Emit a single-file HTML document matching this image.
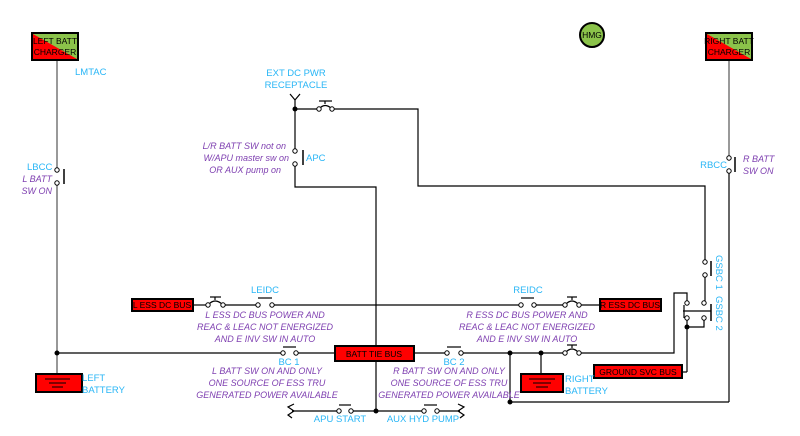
<!DOCTYPE html>
<html><head><meta charset="utf-8"><style>
html,body{margin:0;padding:0;background:#fff;width:800px;height:436px;overflow:hidden}
svg text{font-family:"Liberation Sans",sans-serif}
.b{fill:#29b6f6;font-size:9.5px}
.p{fill:#7e3fb0;font-size:9px;font-style:italic}
.k{fill:#000;font-size:8.5px}
</style></head><body>
<svg width="800" height="436" viewBox="0 0 800 436" xmlns="http://www.w3.org/2000/svg">
<g fill="none" stroke="#000" stroke-width="1.2">
<line x1="57" y1="60" x2="57" y2="170" stroke="#777" stroke-width="1.5"/>
<line x1="57" y1="183" x2="57" y2="374" stroke="#777" stroke-width="1.5"/>
<line x1="64" y1="169" x2="64" y2="184" stroke-width="1.5"/>
<line x1="729" y1="60" x2="729" y2="158" stroke="#777" stroke-width="1.5"/>
<line x1="729" y1="171" x2="729" y2="402" stroke="#000"/>
<line x1="735" y1="157" x2="735" y2="172" stroke-width="1.5"/>
<polyline points="290,94 295,100 300,94"/>
<line x1="295" y1="100" x2="295" y2="151"/>
<line x1="295" y1="109" x2="319" y2="109"/>
<polyline points="332,109 418,109 418,186 705,186 705,262"/>
<line x1="319" y1="101" x2="332" y2="101"/><line x1="325" y1="101" x2="325" y2="104"/>
<path d="M319,109 Q325,102 332,109"/>
<line x1="303" y1="150" x2="303" y2="165" stroke-width="1.5"/>
<polyline points="295,164 295,187 376,187 376,411"/>
<line x1="705" y1="275" x2="705" y2="303"/>
<line x1="711" y1="261" x2="711" y2="276" stroke-width="1.5"/>
<polyline points="704,318 704,327 687,327"/>
<line x1="687" y1="318" x2="687" y2="372"/>
<line x1="687" y1="372" x2="682" y2="372"/>
<polyline points="687,303 687,293 674,293 674,353 579,353"/>
<line x1="683" y1="311" x2="711" y2="311"/>
<line x1="711" y1="304" x2="711" y2="321" stroke-width="1.5"/>
<line x1="684" y1="305" x2="684" y2="318"/>
<line x1="193" y1="305" x2="208" y2="305"/>
<line x1="223" y1="305" x2="258" y2="305"/>
<line x1="272" y1="305" x2="521" y2="305"/>
<line x1="534" y1="305" x2="565" y2="305"/>
<line x1="579" y1="305" x2="600" y2="305"/>
<path d="M208,305 Q215,297 223,305"/><line x1="210" y1="297" x2="221" y2="297"/><line x1="215" y1="297" x2="215" y2="300"/>
<path d="M565,305 Q572,297 579,305"/><line x1="567" y1="297" x2="577" y2="297"/><line x1="572" y1="297" x2="572" y2="300"/>
<line x1="258" y1="298" x2="272" y2="298"/>
<line x1="521" y1="298" x2="534" y2="298"/>
<line x1="57" y1="353" x2="283" y2="353"/>
<line x1="296" y1="353" x2="335" y2="353"/>
<line x1="414" y1="353" x2="447" y2="353"/>
<line x1="461" y1="353" x2="565" y2="353"/>
<line x1="283" y1="347" x2="296" y2="347"/>
<line x1="447" y1="347" x2="461" y2="347"/>
<path d="M565,353 Q572,345 579,353"/><line x1="567" y1="345" x2="577" y2="345"/><line x1="572" y1="345" x2="572" y2="348"/>
<line x1="541" y1="353" x2="541" y2="374"/>
<polyline points="510,353 510,402 729,402"/>
<line x1="292" y1="411" x2="339" y2="411"/>
<line x1="351" y1="411" x2="424" y2="411"/>
<line x1="437" y1="411" x2="460" y2="411"/>
<line x1="339" y1="405" x2="351" y2="405"/>
<line x1="424" y1="405" x2="437" y2="405"/>
<polyline points="294,404 288,407 294,411 288,415 292,418"/>
<polyline points="458,404 464,407 458,411 464,415 460,418"/>
</g>
<g fill="#fff" stroke="#000" stroke-width="1">
<circle cx="57" cy="170" r="2.2"/><circle cx="57" cy="183" r="2.2"/>
<circle cx="729" cy="158" r="2.2"/><circle cx="729" cy="171" r="2.2"/>
<circle cx="319" cy="109" r="2.2"/><circle cx="332" cy="109" r="2.2"/>
<circle cx="295" cy="151" r="2.2"/><circle cx="295" cy="164" r="2.2"/>
<circle cx="705" cy="262" r="2.2"/><circle cx="705" cy="275" r="2.2"/>
<circle cx="687" cy="303" r="2.2"/><circle cx="687" cy="318" r="2.2"/>
<circle cx="704" cy="303" r="2.2"/><circle cx="704" cy="318" r="2.2"/>
<circle cx="208" cy="305" r="2.2"/><circle cx="223" cy="305" r="2.2"/>
<circle cx="258" cy="305" r="2.2"/><circle cx="272" cy="305" r="2.2"/>
<circle cx="521" cy="305" r="2.2"/><circle cx="534" cy="305" r="2.2"/>
<circle cx="565" cy="305" r="2.2"/><circle cx="579" cy="305" r="2.2"/>
<circle cx="283" cy="353" r="2.2"/><circle cx="296" cy="353" r="2.2"/>
<circle cx="447" cy="353" r="2.2"/><circle cx="461" cy="353" r="2.2"/>
<circle cx="565" cy="353" r="2.2"/><circle cx="579" cy="353" r="2.2"/>
<circle cx="339" cy="411" r="2.2"/><circle cx="351" cy="411" r="2.2"/>
<circle cx="424" cy="411" r="2.2"/><circle cx="437" cy="411" r="2.2"/>
</g>
<g fill="#000">
<circle cx="295" cy="109" r="2.5"/><circle cx="57" cy="353" r="2.5"/>
<circle cx="510" cy="353" r="2.5"/><circle cx="541" cy="353" r="2.5"/>
<circle cx="510" cy="402" r="2.5"/><circle cx="376" cy="411" r="2.5"/>
<circle cx="687" cy="327" r="2.5"/>
</g>
<rect x="32" y="33" width="46" height="27" fill="#8bc34a" stroke="#000" stroke-width="2"/>
<polygon points="33,34 33,59 77,59" fill="#f00"/>
<text x="55" y="44" class="k" font-size="7.5" text-anchor="middle">LEFT BATT</text>
<text x="55" y="55" class="k" font-size="7.5" text-anchor="middle">CHARGER</text>
<rect x="706" y="33" width="46" height="27" fill="#8bc34a" stroke="#000" stroke-width="2"/>
<polygon points="707,34 707,59 751,59" fill="#f00"/>
<text x="729" y="44" class="k" font-size="7.5" text-anchor="middle">RIGHT BATT</text>
<text x="729" y="55" class="k" font-size="7.5" text-anchor="middle">CHARGER</text>
<circle cx="592" cy="35" r="12" fill="#8bc34a" stroke="#000" stroke-width="2"/>
<text x="592" y="38" class="k" font-size="7.5" text-anchor="middle">HMG</text>
<g stroke="#000" stroke-width="2" fill="#f00">
<rect x="132" y="299" width="61" height="12"/>
<rect x="600" y="299" width="61" height="12"/>
<rect x="335" y="346" width="79" height="15"/>
<rect x="594" y="365" width="88" height="13"/>
<rect x="36" y="374" width="46" height="18"/>
<rect x="521" y="374" width="42" height="18"/>
</g>
<g stroke="#000" stroke-width="1">
<line x1="45" y1="379" x2="70" y2="379"/><line x1="49" y1="383" x2="66" y2="383"/><line x1="52" y1="387" x2="63" y2="387"/>
<line x1="529" y1="379" x2="555" y2="379"/><line x1="533" y1="383" x2="551" y2="383"/><line x1="536" y1="387" x2="548" y2="387"/>
</g>
<text x="162" y="308" class="k" text-anchor="middle">L ESS DC BUS</text>
<text x="630" y="308" class="k" text-anchor="middle">R ESS DC BUS</text>
<text x="374" y="357" class="k" text-anchor="middle">BATT TIE BUS</text>
<text x="638" y="375" class="k" text-anchor="middle">GROUND SVC BUS</text>
<text x="75" y="75" class="b">LMTAC</text>
<text x="27" y="170" class="b">LBCC</text>
<text x="296" y="76" class="b" text-anchor="middle">EXT DC PWR</text>
<text x="296" y="88" class="b" text-anchor="middle">RECEPTACLE</text>
<text x="306" y="161" class="b">APC</text>
<text x="727" y="168" class="b" text-anchor="end">RBCC</text>
<text x="265" y="293" class="b" text-anchor="middle">LEIDC</text>
<text x="528" y="293" class="b" text-anchor="middle">REIDC</text>
<text x="289" y="365" class="b" text-anchor="middle">BC 1</text>
<text x="454" y="365" class="b" text-anchor="middle">BC 2</text>
<text x="82" y="381" class="b">LEFT</text>
<text x="82" y="393" class="b">BATTERY</text>
<text x="565" y="382" class="b">RIGHT</text>
<text x="565" y="394" class="b">BATTERY</text>
<text x="340" y="422" class="b" text-anchor="middle">APU START</text>
<text x="423" y="422" class="b" text-anchor="middle">AUX HYD PUMP</text>
<text class="b" transform="translate(716,255) rotate(90)">GSBC 1</text>
<text class="b" transform="translate(716,296) rotate(90)">GSBC 2</text>
<text x="52" y="182" class="p" text-anchor="end">L BATT</text>
<text x="52" y="194" class="p" text-anchor="end">SW ON</text>
<text x="743" y="162" class="p">R BATT</text>
<text x="743" y="174" class="p">SW ON</text>
<text x="286" y="149" class="p" text-anchor="end">L/R BATT SW not on</text>
<text x="289" y="161" class="p" text-anchor="end">W/APU master sw on</text>
<text x="281" y="173" class="p" text-anchor="end">OR AUX pump on</text>
<text x="265" y="318" class="p" text-anchor="middle">L ESS DC BUS POWER AND</text>
<text x="265" y="330" class="p" text-anchor="middle">REAC &amp; LEAC NOT ENERGIZED</text>
<text x="265" y="342" class="p" text-anchor="middle">AND E INV SW IN AUTO</text>
<text x="527" y="318" class="p" text-anchor="middle">R ESS DC BUS POWER AND</text>
<text x="527" y="330" class="p" text-anchor="middle">REAC &amp; LEAC NOT ENERGIZED</text>
<text x="527" y="342" class="p" text-anchor="middle">AND E INV SW IN AUTO</text>
<text x="267" y="374" class="p" text-anchor="middle">L BATT SW ON AND ONLY</text>
<text x="267" y="386" class="p" text-anchor="middle">ONE SOURCE OF ESS TRU</text>
<text x="267" y="398" class="p" text-anchor="middle">GENERATED POWER AVAILABLE</text>
<text x="449" y="374" class="p" text-anchor="middle">R BATT SW ON AND ONLY</text>
<text x="449" y="386" class="p" text-anchor="middle">ONE SOURCE OF ESS TRU</text>
<text x="449" y="398" class="p" text-anchor="middle">GENERATED POWER AVAILABLE</text>
</svg>
</body></html>
